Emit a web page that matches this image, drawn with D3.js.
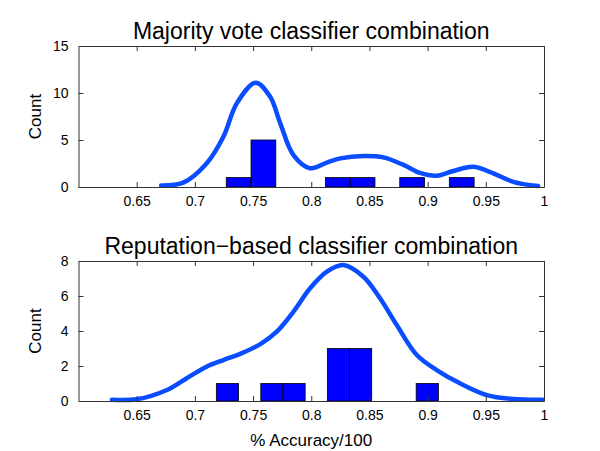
<!DOCTYPE html>
<html>
<head>
<meta charset="utf-8">
<script src="https://cdn.jsdelivr.net/npm/d3@7"></script>
<style>
  html, body { margin: 0; padding: 0; background: #fff; }
  svg { display: block; }
  text { font-family: "Liberation Sans", Arial, Helvetica, sans-serif; fill: #000; }
</style>
</head>
<body>
<svg id="chart" width="600" height="451"></svg>
<script>
// ---------- data ----------
const xTicks = [0.65, 0.7, 0.75, 0.8, 0.85, 0.9, 0.95, 1];

// Majority vote panel
const mvTitle = "Majority vote classifier combination";
const mvBinCenters = [0.7376, 0.7589, 0.7802, 0.8015, 0.8228, 0.8441, 0.8654, 0.8867, 0.9080, 0.9293];
const mvBinWidth = 0.0213;
const mvCounts = [1, 5, 0, 0, 1, 1, 0, 1, 0, 1];
const mvYTicks = [0, 5, 10, 15];
const mvCurveX = [0.671, 0.690, 0.710, 0.7245, 0.736, 0.7523, 0.7647, 0.7733, 0.7847, 0.799, 0.8134, 0.825, 0.845, 0.862, 0.8792, 0.8935, 0.9078, 0.922, 0.9393, 0.9565, 0.9736, 0.995];
const mvCurveY = [0.15, 0.46, 2.5, 5.35, 8.9, 11.1, 9.6, 6.8, 3.4, 2.0, 2.6, 3.05, 3.3, 3.15, 2.35, 1.5, 1.2, 1.7, 2.15, 1.45, 0.55, 0.1];

// Reputation-based panel
const rbTitle = "Reputation\u2212based classifier combination";
const rbBinCenters = [0.7280, 0.7471, 0.7662, 0.7852, 0.8043, 0.8234, 0.8424, 0.8615, 0.8806, 0.8997];
const rbBinWidth = 0.0191;
const rbCounts = [1, 0, 1, 1, 0, 3, 3, 0, 0, 1];
const rbYTicks = [0, 2, 4, 6, 8];
const rbCurveX = [0.6287, 0.650, 0.676, 0.693, 0.710, 0.7245, 0.7389, 0.756, 0.7704, 0.7847, 0.799, 0.8134, 0.8276, 0.8448, 0.8591, 0.8735, 0.8907, 0.9078, 0.9278, 0.9508, 0.9736, 0.9989];
const rbCurveY = [0.07, 0.1, 0.63, 1.3, 1.96, 2.34, 2.69, 3.24, 3.96, 5.1, 6.44, 7.39, 7.77, 7.1, 5.87, 4.34, 2.63, 1.77, 1.01, 0.34, 0.11, 0.07];

const xLabel = "% Accuracy/100";
const yLabel = "Count";

// ---------- drawing ----------
const svg = d3.select("#chart");
const left = 78.5, right = 544;
const x = d3.scaleLinear().domain([0.6, 1]).range([left, right]);

function panel(cfg) {
  const y = d3.scaleLinear().domain(cfg.yDomain).range([cfg.bottom, cfg.top]);
  const g = svg.append("g");

  // title
  g.append("text")
    .attr("x", (left + right) / 2).attr("y", cfg.titleY)
    .attr("text-anchor", "middle")
    .style("font-size", "23px")
    .text(cfg.title);

  // bars
  const bars = cfg.centers.map((c, i) => ({ c, n: cfg.counts[i] })).filter(d => d.n > 0);
  g.selectAll("rect.bar").data(bars).enter().append("rect")
    .attr("class", "bar")
    .attr("x", d => x(d.c - cfg.binWidth / 2))
    .attr("width", d => x(d.c + cfg.binWidth / 2) - x(d.c - cfg.binWidth / 2))
    .attr("y", d => y(d.n))
    .attr("height", d => y(0) - y(d.n))
    .attr("fill", "#0000ff")
    .attr("stroke", "#000")
    .attr("stroke-width", 0.8);

  // density curve
  const pts = cfg.curveX.map((v, i) => [v, cfg.curveY[i]]);
  g.append("path")
    .datum(pts)
    .attr("fill", "none")
    .attr("stroke", "#0a4cff")
    .attr("stroke-width", 4.5)
    .attr("stroke-linecap", "round")
    .attr("stroke-linejoin", "round")
    .attr("d", d3.line().x(d => x(d[0])).y(d => y(d[1])).curve(d3.curveCatmullRom.alpha(0.5)));

  // axes (MATLAB-like box with inward ticks)
  const tickLen = 5;
  const xb = d3.axisBottom(x).tickValues(xTicks).tickSizeInner(-tickLen).tickSizeOuter(0).tickPadding(9)
    .tickFormat(d3.format("~g"));
  const xt = d3.axisTop(x).tickValues(xTicks).tickSizeInner(-tickLen).tickSizeOuter(0).tickFormat("");
  const yl = d3.axisLeft(y).tickValues(cfg.yTicks).tickSizeInner(-tickLen).tickSizeOuter(0).tickPadding(10);
  const yr = d3.axisRight(y).tickValues(cfg.yTicks).tickSizeInner(-tickLen).tickSizeOuter(0).tickFormat("");

  const ax = [
    g.append("g").attr("transform", `translate(0,${cfg.bottom})`).call(xb),
    g.append("g").attr("transform", `translate(0,${cfg.top})`).call(xt),
    g.append("g").attr("transform", `translate(${left},0)`).call(yl),
    g.append("g").attr("transform", `translate(${right},0)`).call(yr)
  ];
  ax.forEach(a => {
    a.select(".domain").attr("stroke", "#333").attr("stroke-width", 1);
    a.selectAll(".tick line").attr("stroke", "#333");
    a.selectAll(".tick text").style("font-size", "14px").style("font-family", '"Liberation Sans", Arial, sans-serif').attr("fill", "#000");
  });

  // y label
  g.append("text")
    .attr("transform", `translate(41,${(cfg.top + cfg.bottom) / 2}) rotate(-90)`)
    .attr("text-anchor", "middle")
    .style("font-size", "17px")
    .text(yLabel);
  return g;
}

panel({ title: mvTitle, titleY: 39, top: 46, bottom: 187, yDomain: [0, 15], yTicks: mvYTicks,
        centers: mvBinCenters, binWidth: mvBinWidth, counts: mvCounts, curveX: mvCurveX, curveY: mvCurveY });
panel({ title: rbTitle, titleY: 254, top: 261, bottom: 401, yDomain: [0, 8], yTicks: rbYTicks,
        centers: rbBinCenters, binWidth: rbBinWidth, counts: rbCounts, curveX: rbCurveX, curveY: rbCurveY });

svg.append("text")
  .attr("x", (left + right) / 2).attr("y", 446)
  .attr("text-anchor", "middle")
  .style("font-size", "17px")
  .text(xLabel);
</script>
</body>
</html>
